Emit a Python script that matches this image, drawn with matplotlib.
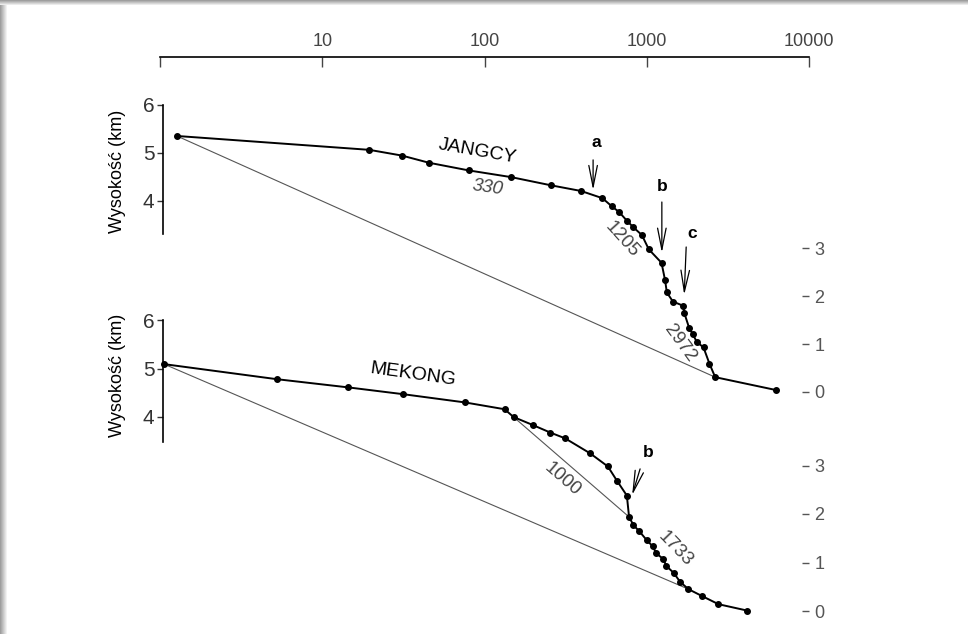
import numpy as np
import matplotlib
matplotlib.use("Agg")
import matplotlib.pyplot as plt
from matplotlib.patches import Rectangle

plt.rcParams["font.family"] = ["Liberation Sans", "DejaVu Sans"]

W, H = 968, 634

# --- dane: odległość od źródła (km, skala log.) i wysokość (km) ---
jangcy_dist = [1.27, 19.5, 31, 45.5, 80, 146, 256, 394, 533, 609, 676, 754, 828,
               933, 1030, 1233, 1298, 1330, 1449, 1683, 1700, 1825, 1920, 2032,
               2238, 2436, 2641, 6280]
jangcy_elev = [5.35, 5.06, 4.94, 4.79, 4.63, 4.49, 4.32, 4.20, 4.05, 3.88, 3.76,
               3.58, 3.44, 3.28, 2.98, 2.70, 2.33, 2.08, 1.89, 1.80, 1.66, 1.34,
               1.21, 1.05, 0.93, 0.59, 0.31, 0.04]
jangcy_chords = [(0, 26)]

mekong_dist = [1.06, 5.24, 14.5, 31.6, 76, 133, 151, 200, 254, 314, 448, 576,
               654, 754, 778, 828, 902, 1000, 1091, 1143, 1267, 1318, 1462,
               1607, 1808, 2186, 2768, 4140]
mekong_elev = [5.09, 4.78, 4.61, 4.47, 4.30, 4.16, 4.00, 3.83, 3.68, 3.56, 3.25,
               2.98, 2.69, 2.38, 1.94, 1.77, 1.64, 1.46, 1.33, 1.19, 1.07, 0.93,
               0.79, 0.60, 0.45, 0.31, 0.14, 0.01]
mekong_chords = [(0, 24), (6, 14)]

top_ticks = [1, 10, 100, 1000, 10000]
top_labels = ["", "10", "100", "1000", "10000"]
left_ticks = [4, 5, 6]
right_ticks = [0, 1, 2, 3]

# napisy: (tekst, x, y, obrót, kursywa)
jangcy_notes = [("JANGCY", 91, 5.02, -10, False), ("330", 105, 4.27, -8, True),
                ("1205", 705, 3.18, -48, False), ("2972", 1607, 1.02, -54, False)]
mekong_notes = [("MEKONG", 36, 4.87, -8, False), ("1000", 301, 2.72, -41, False),
                ("1733", 1496, 1.28, -46, False)]

# strzałki: (litera, x litery, y litery, x start, y start, x koniec, y koniec)
jangcy_arrows = [("a", 488, 5.21, 467, 4.85, 467, 4.22),
                 ("b", 1245, 4.29, 1239, 3.97, 1239, 2.91),
                 ("c", 1905, 3.32, 1750, 3.03, 1702, 2.03)]
mekong_arrows = [("b", 1020, 3.26, 910, 2.93, 813, 2.39)]


def dodaj_osie(fig, top, bottom, ymax):
    ax = fig.add_axes([160 / W, 1 - bottom / H, 649 / W, (bottom - top) / H])
    ax.set_xscale("log")
    ax.set_xlim(1, 10000)
    ax.set_ylim(0, ymax)
    ax.patch.set_alpha(0)
    for s in ax.spines.values():
        s.set_visible(False)
    ax.minorticks_off()
    return ax


def rysuj_profil(ax, dist, elev, chords, notes, arrows):
    for i, j in chords:
        ax.plot([dist[i], dist[j]], [elev[i], elev[j]], color="#555555",
                lw=0.8, clip_on=False, zorder=2)
    ax.plot(dist, elev, color="black", lw=1.4, marker="o", ms=4,
            clip_on=False, zorder=3)
    for txt, x, y, rot, kurs in notes:
        big = txt.isalpha()
        ax.text(x, y, txt, fontsize=14 if big else 13.5, rotation=rot,
                ha="center", va="center", rotation_mode="anchor",
                color="black" if big else "#444444",
                style="italic" if kurs else "normal")
    for lit, lx, ly, x0, y0, x1, y1 in arrows:
        ax.text(lx, ly, lit, fontsize=12.5, fontweight="bold",
                ha="center", va="center")
        ax.annotate("", xy=(x1, y1), xytext=(x0, y0),
                    arrowprops=dict(arrowstyle="->,head_length=1.1,head_width=0.22",
                                    lw=0.9, color="black", shrinkA=0, shrinkB=0,
                                    mutation_scale=14))


def lewa_os(ax, y0, label_y):
    ax.spines["left"].set_visible(True)
    ax.spines["left"].set_bounds(y0, 6)
    ax.spines["left"].set_position(("outward", -2))
    ax.spines["left"].set_linewidth(1.2)
    ax.set_yticks(left_ticks)
    ax.tick_params(axis="y", direction="out", length=4, width=1, pad=2,
                   labelsize=15, colors="#333333")
    ax.text(-0.065, label_y, "Wysokość (km)", transform=ax.transAxes,
            rotation=90, ha="center", va="center", fontsize=13)


def prawa_os(ax):
    tw = ax.twinx()
    tw.set_ylim(ax.get_ylim())
    for s in tw.spines.values():
        s.set_visible(False)
    tw.set_yticks(right_ticks)
    tw.tick_params(axis="y", direction="in", length=5, width=1, pad=4,
                   labelsize=13, colors="#555555")
    tw.patch.set_alpha(0)


fig = plt.figure(figsize=(W / 100, H / 100), dpi=100)

# cień ramki
for k in range(7):
    g = 0.62 + k * 0.055
    fig.add_artist(Rectangle((k / W, 0), 1 / W, 1, transform=fig.transFigure,
                             color=str(min(g, 1.0)), lw=0))
for k in range(5):
    g = 0.62 + k * 0.075
    fig.add_artist(Rectangle((0, 1 - (k + 1) / H), 1, 1 / H,
                             transform=fig.transFigure,
                             color=str(min(g, 1.0)), lw=0))

# Jangcy
ax1 = dodaj_osie(fig, 57, 392, 7.0)
ax1.spines["top"].set_visible(True)
ax1.spines["top"].set_bounds(1, 10000)
ax1.spines["top"].set_linewidth(1.2)
ax1.xaxis.tick_top()
ax1.set_xticks(top_ticks)
ax1.set_xticklabels(top_labels)
ax1.tick_params(axis="x", direction="in", length=7, width=1, pad=5,
                labelsize=13, colors="#444444")
lewa_os(ax1, 3.3, 0.66)
prawa_os(ax1)
rysuj_profil(ax1, jangcy_dist, jangcy_elev, jangcy_chords, jangcy_notes,
             jangcy_arrows)

# Mekong
ax2 = dodaj_osie(fig, 320, 611, 6.0)
ax2.set_xticks([])
lewa_os(ax2, 3.48, 0.81)
prawa_os(ax2)
rysuj_profil(ax2, mekong_dist, mekong_elev, mekong_chords, mekong_notes,
             mekong_arrows)

fig.savefig("out.png", dpi=100)
